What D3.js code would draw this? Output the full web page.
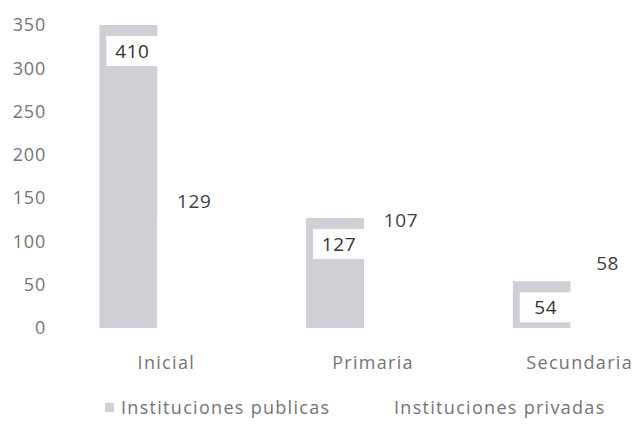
<!DOCTYPE html>
<html>
<head>
<meta charset="utf-8">
<script src="https://cdn.jsdelivr.net/npm/d3@7"></script>
<style>
    body { margin: 0; background: #fff; }
    svg text { font-family: "Open Sans", "Noto Sans", sans-serif; }
</style>
</head>
<body>
<div id="chart"></div>
<script>
const categories = ["Inicial", "Primaria", "Secundaria"];
const seriesNames = ["Instituciones publicas", "Instituciones privadas"];
const publicas = [410, 127, 54];
const privadas = [129, 107, 58];
const yTicks = [0, 50, 100, 150, 200, 250, 300, 350];

const colors = {"Instituciones publicas": "#cfcfd5", "Instituciones privadas": "#ffffff"};

const width = 633;
const height = 425;

const rows = categories.map((c, i) => ({
    cat: c,
    values: [
        {key: seriesNames[0], value: publicas[i]},
        {key: seriesNames[1], value: privadas[i]}
    ]
}));

const svg = d3.select("#chart").append("svg")
    .attr("width", width)
    .attr("height", height);

const x0 = d3.scaleBand()
    .domain(categories)
    .range([54, 674])
    .paddingInner(0.44)
    .paddingOuter(0.22);

const x1 = d3.scaleBand()
    .domain(seriesNames)
    .range([0, x0.bandwidth()]);

const y = d3.scaleLinear()
    .domain([0, 350])
    .range([328, 25]);

// y axis labels only, no line
const yAxis = svg.append("g")
    .attr("transform", "translate(46,0)")
    .call(d3.axisLeft(y).tickValues(yTicks).tickSize(0).tickPadding(0));
yAxis.select(".domain").remove();
yAxis.selectAll("text")
    .attr("font-size", 18)
    .attr("letter-spacing", 0.8)
    .attr("fill", "#747474")
    .style("font-family", "'Open Sans', sans-serif");

svg.append("clipPath")
    .attr("id", "plot")
    .append("rect")
    .attr("x", 0)
    .attr("y", y(350))
    .attr("width", width)
    .attr("height", y(0) - y(350));

const groups = svg.append("g")
    .attr("clip-path", "url(#plot)")
    .selectAll(".grp")
    .data(rows)
    .enter()
    .append("g")
    .attr("class", "grp")
    .attr("transform", d => "translate(" + x0(d.cat) + ",0)");

groups.selectAll("rect")
    .data(d => d.values)
    .enter()
    .append("rect")
    .attr("x", d => x1(d.key))
    .attr("y", d => y(Math.min(d.value, 350)))
    .attr("width", x1.bandwidth())
    .attr("height", d => y(0) - y(Math.min(d.value, 350)))
    .attr("fill", d => colors[d.key]);

// labels for public bars: inside end, with white box
const pubLabels = svg.append("g")
    .selectAll("g")
    .data(rows)
    .enter()
    .append("g")
    .attr("transform", d => {
        const cx = x0(d.cat) + x1(seriesNames[0]) + x1.bandwidth() / 2 + 4;
        const top = y(Math.min(d.values[0].value, 350));
        return "translate(" + cx + "," + (top + 26) + ")";
    });

pubLabels.append("rect")
    .attr("x", -26)
    .attr("y", -15)
    .attr("width", 52)
    .attr("height", 30)
    .attr("fill", "#fff");

pubLabels.append("text")
    .attr("text-anchor", "middle")
    .attr("dy", "0.35em")
    .attr("font-size", 19)
    .attr("letter-spacing", 0.6)
    .attr("fill", "#333")
    .text(d => d.values[0].value);

// labels for private bars: outside end
svg.append("g")
    .selectAll("text")
    .data(rows)
    .enter()
    .append("text")
    .attr("x", d => x0(d.cat) + x1(seriesNames[1]) + x1.bandwidth() / 2 + 8)
    .attr("y", d => y(d.values[1].value) - 8)
    .attr("text-anchor", "middle")
    .attr("font-size", 19)
    .attr("letter-spacing", 0.6)
    .attr("fill", "#404040")
    .text(d => d.values[1].value);

// category axis
const xAxis = svg.append("g")
    .attr("transform", "translate(0," + y(0) + ")")
    .call(d3.axisBottom(x0).tickSize(0).tickPadding(28));
xAxis.select(".domain").remove();
xAxis.selectAll("text")
    .attr("dx", "0.5em")
    .attr("font-size", 18)
    .attr("letter-spacing", 1.3)
    .attr("fill", "#747474")
    .style("font-family", "'Open Sans', sans-serif");

// legend
const legendX = [105, 378];
const legend = svg.append("g")
    .selectAll("g")
    .data(seriesNames)
    .enter()
    .append("g")
    .attr("transform", (d, i) => "translate(" + legendX[i] + ",408)");

legend.append("rect")
    .attr("x", 0)
    .attr("y", -5)
    .attr("width", 9)
    .attr("height", 9)
    .attr("fill", d => colors[d]);

legend.append("text")
    .attr("x", 16)
    .attr("dy", "0.35em")
    .attr("font-size", 18)
    .attr("letter-spacing", 1.3)
    .attr("fill", "#747474")
    .text(d => d);
</script>
</body>
</html>
